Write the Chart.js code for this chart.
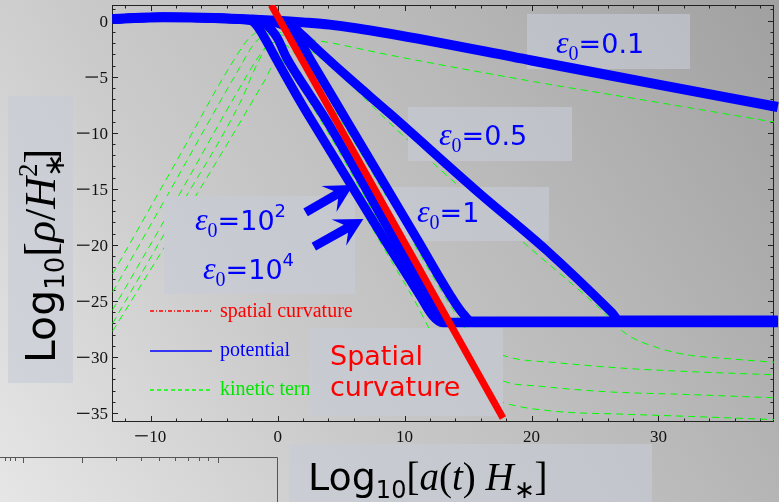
<!DOCTYPE html>
<html lang="en">
<head>
  <meta charset="UTF-8" />
  <title>Energy density vs scale factor</title>
  <script src="https://cdn.jsdelivr.net/npm/chart.js"></script>
  <style>
    html, body { margin: 0; padding: 0; background: #c4c4c4; }
    #wrap { width: 779px; height: 502px; }
  </style>
</head>
<body>
  <div id="wrap"><canvas id="rhoChart" width="779" height="502"></canvas></div>

  <script>
    // Log10[a H*] on x, Log10[rho / H*^2] on y
    const xTicks = [-10, 0, 10, 20, 30];
    const yTicks = [0, -5, -10, -15, -20, -25, -30, -35];

    // potential energy, one curve per initial epsilon
    const potEps01 = [[-13, 0.15], [-9, 0.3], [-5, 0.25], [-2, 0.1], [0, 0], [2, -0.15], [4.1, -0.35], [8.8, -1.15], [20, -3.55], [30, -5.7], [39.4, -7.7]];
    const potEps05 = [[-13, 0.15], [-9, 0.3], [-5, 0.25], [-2, 0.08], [-1, 0], [0, -0.12], [0.7, -0.3], [1.2, -0.55], [2, -1.35], [3.5, -2.95], [5.7, -5.2], [8.8, -8.25], [15.9, -15.4], [21.2, -20.5], [26.3, -26.0], [26.9, -26.7], [39.4, -26.7]];
    const potEps1 = [[-13, 0.15], [-9, 0.3], [-5, 0.25], [-2, 0.08], [-1, 0], [-0.2, -0.15], [0.5, -0.45], [1.1, -0.95], [1.8, -1.95], [2.6, -3.5], [5.41, -8.86], [11.02, -19.55], [13.6, -24.5], [14.5, -26.0], [15.3, -26.8], [39.4, -26.8]];
    const potEps1e2 = [[-13, 0.15], [-9, 0.3], [-5, 0.25], [-2, 0.08], [-1.5, 0], [-1, -0.25], [-0.5, -0.8], [0, -1.6], [0.7, -3.3], [1.5, -4.8], [3.83, -8.86], [9.21, -19.55], [11.7, -24.5], [12.6, -26.2], [13.4, -26.9], [39.4, -26.9]];
    const potEps1e4 = [[-13, 0.15], [-9, 0.3], [-5, 0.25], [-2.5, 0.08], [-2, -0.05], [-1.6, -0.5], [-1.1, -1.4], [-0.6, -2.4], [-0.1, -3.45], [1.47, -6.6], [2.65, -8.86], [8.43, -19.55], [11.2, -24.5], [12.2, -26.3], [13.0, -26.95], [39.4, -26.95]];

    // kinetic term for the same runs
    const kinEps01 = [[-13, -22.6], [-8, -12.6], [-3.5, -3.6], [-2.2, -1.5], [-1.2, -0.9], [0, -1.0], [1.2, -1.4], [4.3, -2.0], [8.8, -3.06], [20, -5.4], [30, -7.3], [39.4, -9.1]];
    const kinEps05 = [[-13, -24.2], [-8, -14.2], [-3.2, -4.6], [-1.8, -2.0], [-0.8, -1.2], [0.4, -1.3], [2.5, -2.6], [5, -4.9], [8.8, -9.1], [15, -15.5], [20, -20.4], [25.5, -25.8], [27.4, -27.9], [30, -29.2], [32.5, -29.85], [35.5, -30.15], [39.4, -30.5]];
    const kinEps1 = [[-13, -25.8], [-8, -16.0], [-3.2, -6.4], [-1.5, -3.2], [-0.8, -2.2], [0, -1.9], [0.8, -2.3], [1.6, -3.3], [4.95, -8.86], [10.55, -19.55], [13.5, -25.2], [15.2, -28.1], [16.8, -29.4], [18.5, -30.1], [21.9, -30.5], [27.2, -31.0], [32.4, -31.3], [39.4, -31.6]];
    const kinEps1e2 = [[-13, -27.0], [-8, -17.2], [-3, -7.4], [-1.5, -3.6], [-0.8, -2.4], [-0.2, -2.6], [0.25, -3.3], [3.38, -8.86], [8.76, -19.55], [11.5, -25.0], [13.5, -28.5], [15.5, -30.6], [17.9, -32.2], [20.6, -32.6], [25.9, -33.1], [32.4, -33.35], [39.4, -33.65]];
    const kinEps1e4 = [[-13, -27.7], [-8, -18.5], [-3.5, -10.1], [-1, -5.3], [-0.3, -4.0], [0.2, -4.1], [1.0, -5.6], [2.2, -8.0], [7.98, -19.55], [10.8, -25.0], [12.5, -28.6], [14.5, -31.6], [16.2, -33.2], [17.9, -34.1], [21.9, -34.85], [27.2, -35.1], [32.4, -35.3], [39.4, -35.6]];

    // spatial curvature, slope -2
    const curvature = [[-0.5, 1.4], [17.75, -35.45]];

    const SERIF = '"Liberation Serif", "Times New Roman", serif';
    const SANS = '"DejaVu Sans", Verdana, sans-serif';
    const BLUE = '#0000ff';
    const RED = '#ff0000';
    const GREEN = '#00ff00';

    const pts = arr => arr.map(([x, y]) => ({ x, y }));

    function kinetic(data) {
      return { kind: 'kinetic', data: pts(data), borderColor: GREEN, borderWidth: 1, borderDash: [7, 5], order: 3 };
    }
    function potential(data, width) {
      return { kind: 'potential', data: pts(data), borderColor: BLUE, borderWidth: width, order: 2,
               clip: { left: 3, top: 0, right: 5, bottom: 0 } };
    }

    let bg = null;

    function background(ctx, w, h) {
      if (!bg) {
        bg = ctx.createLinearGradient(0, h, w, 0);
        bg.addColorStop(0, '#e6e6e6');
        bg.addColorStop(0.35, '#cacaca');
        bg.addColorStop(0.65, '#b9b9b9');
        bg.addColorStop(1, '#a0a0a0');
      }
      return bg;
    }

    // draws a row of text pieces; each piece is [text, font, dy, advance?]
    function runs(ctx, x, y, parts) {
      for (const [t, f, dy = 0, adv = true] of parts) {
        ctx.font = f;
        ctx.fillText(t, x, y + dy);
        if (adv) x += ctx.measureText(t).width;
      }
      return x;
    }

    function box(ctx, x, y, w, h) {
      ctx.fillStyle = bg;
      ctx.fillRect(x, y, w, h);
      ctx.fillStyle = 'rgba(198, 205, 214, 0.62)';
      ctx.fillRect(x, y, w, h);
    }

    function epsLabel(ctx, x, y, value, power) {
      ctx.fillStyle = BLUE;
      const parts = [
        ['\u03b5', `italic 32px ${SERIF}`],
        ['0', `20px ${SERIF}`, 7],
        ['=' + value, `27px ${SANS}`]
      ];
      if (power) parts.push([power, `18px ${SANS}`, -13]);
      runs(ctx, x, y, parts);
    }

    // tick number with a long typeset minus
    function tickText(ctx, v, x, y, align) {
      ctx.font = `17px ${SERIF}`;
      const digits = String(Math.abs(v));
      const dw = ctx.measureText(digits).width;
      const mw = v < 0 ? 14 : 0;
      const left = align === 'right' ? x - dw - mw : x - (dw + mw) / 2;
      if (v < 0) ctx.fillRect(left, y - 6.3, 12.5, 1.2);
      ctx.fillText(digits, left + mw, y);
    }

    function drawTickLabels(chart) {
      const { ctx, chartArea: a, scales: { x, y } } = chart;
      ctx.save();
      ctx.fillStyle = '#111';
      ctx.textAlign = 'left';
      for (const v of xTicks) tickText(ctx, v, x.getPixelForValue(v), a.bottom + 19.5, 'center');
      for (const v of yTicks) tickText(ctx, v, a.left - 4, y.getPixelForValue(v) + 6, 'right');
      ctx.restore();
    }

    function drawLegend(ctx) {
      ctx.save();
      ctx.lineWidth = 1.4;
      const rows = [
        [RED, [4, 2, 1, 2], 311, 'spatial curvature', 317],
        [BLUE, [], 351, 'potential', 356],
        [GREEN, [4, 3], 390, 'kinetic term', 395]
      ];
      ctx.font = `20px ${SERIF}`;
      for (const [col, dash, ly, label, by] of rows) {
        ctx.strokeStyle = col;
        ctx.setLineDash(dash);
        ctx.beginPath();
        ctx.moveTo(150, ly);
        ctx.lineTo(212, ly);
        ctx.stroke();
        ctx.fillStyle = col === GREEN ? '#00e600' : col;
        ctx.fillText(label, 220, by);
      }
      ctx.restore();
    }

    function drawNotes(ctx) {
      ctx.save();
      box(ctx, 527, 14, 163, 55);
      box(ctx, 408, 107, 164, 54);
      box(ctx, 386, 187, 163, 54);
      box(ctx, 164, 196, 191, 98);
      box(ctx, 8, 96, 65, 287);
      box(ctx, 309, 328, 194, 88);
      box(ctx, 289, 444, 363, 58);

      epsLabel(ctx, 556, 53, '0.1');
      epsLabel(ctx, 439, 145, '0.5');
      epsLabel(ctx, 417, 222, '1');
      epsLabel(ctx, 195, 230, '10', '2');
      epsLabel(ctx, 203, 279, '10', '4');

      ctx.fillStyle = RED;
      ctx.font = `27px ${SANS}`;
      ctx.fillText('Spatial', 330, 365);
      ctx.fillText('curvature', 330, 396);

      // axis titles
      ctx.fillStyle = '#000';
      const big = `38px ${SANS}`, sub = `24px ${SANS}`;
      const ser = `39px ${SERIF}`, ita = `italic 39px ${SERIF}`, star = `25px ${SERIF}`;
      runs(ctx, 308, 490, [
        ['Log', big], ['10', sub, 8], ['[', ser], ['a', ita], ['(', ser], ['t', ita], [')', ser],
        [' ', ser], ['H', ita], ['\u2217', star, 8], [']', ser]
      ]);
      ctx.translate(55, 363);
      ctx.rotate(-Math.PI / 2);
      const vSer = `44px ${SERIF}`, vIta = `italic 44px ${SERIF}`;
      runs(ctx, 0, 0, [
        ['Log', `41px ${SANS}`], ['10', `26px ${SANS}`, 9], ['[', vSer], ['\u03c1', vIta], ['/', vSer], ['H', vIta],
        ['\u2217', `28px ${SERIF}`, 9, false], ['2', `27px ${SERIF}`, -18], [']', vSer]
      ]);
      ctx.restore();
    }

    function arrow(chart, from, to) {
      const { ctx, scales: { x, y } } = chart;
      const x0 = x.getPixelForValue(from[0]), y0 = y.getPixelForValue(from[1]);
      const x1 = x.getPixelForValue(to[0]), y1 = y.getPixelForValue(to[1]);
      const L = Math.hypot(x1 - x0, y1 - y0);
      const w = 9, hl = 20, sw = 8, hw = 15;
      ctx.save();
      ctx.translate(x0, y0);
      ctx.rotate(Math.atan2(y1 - y0, x1 - x0));
      ctx.fillStyle = BLUE;
      ctx.beginPath();
      ctx.moveTo(0, -w / 2);
      ctx.lineTo(L - hl, -w / 2);
      ctx.lineTo(L - hl - sw, -hw);
      ctx.lineTo(L, 0);
      ctx.lineTo(L - hl - sw, hw);
      ctx.lineTo(L - hl, w / 2);
      ctx.lineTo(0, w / 2);
      ctx.closePath();
      ctx.fill();
      ctx.restore();
    }

    function drawFrame(chart) {
      const { ctx, chartArea: a, scales: { x, y } } = chart;
      ctx.save();
      ctx.strokeStyle = '#222';
      ctx.lineWidth = 1;
      ctx.strokeRect(a.left + 0.5, a.top + 0.5, a.right - a.left - 1, a.bottom - a.top - 1);
      ctx.beginPath();
      for (let v = -12; v <= 38; v += 2) {
        const px = Math.round(x.getPixelForValue(v)) + 0.5;
        const len = v % 10 === 0 ? 6 : 3.5;
        ctx.moveTo(px, a.bottom); ctx.lineTo(px, a.bottom - len);
        ctx.moveTo(px, a.top); ctx.lineTo(px, a.top + len);
      }
      for (let v = -35; v <= 1; v += 1) {
        const py = Math.round(y.getPixelForValue(v)) + 0.5;
        const len = v % 5 === 0 ? 6 : 3.5;
        ctx.moveTo(a.left, py); ctx.lineTo(a.left + len, py);
        ctx.moveTo(a.right, py); ctx.lineTo(a.right - len, py);
      }
      ctx.stroke();
      ctx.restore();
    }

    // corner of a second frame peeking in at the bottom left
    const lowerMajor = [23, 82, 218];
    const lowerMinor = [5, 10, 15, 116, 141, 159, 175, 188, 199, 208];

    function drawLowerFrame(ctx) {
      ctx.save();
      ctx.strokeStyle = '#555';
      ctx.lineWidth = 1;
      ctx.beginPath();
      ctx.moveTo(0, 457.5); ctx.lineTo(277.5, 457.5); ctx.lineTo(277.5, 502);
      for (const t of lowerMajor) { ctx.moveTo(t + 0.5, 457.5); ctx.lineTo(t + 0.5, 463); }
      for (const t of lowerMinor) { ctx.moveTo(t + 0.5, 457.5); ctx.lineTo(t + 0.5, 461); }
      ctx.stroke();
      ctx.restore();
    }

    let notesDone = false;

    const overlay = {
      id: 'overlay',
      beforeDraw(chart) {
        const { ctx, width, height } = chart;
        ctx.save();
        ctx.fillStyle = background(ctx, width, height);
        ctx.fillRect(0, 0, width, height);
        ctx.restore();
        drawLowerFrame(ctx);
      },
      beforeDatasetsDraw(chart) {
        notesDone = false;
        drawFrame(chart);
        drawTickLabels(chart);
      },
      beforeDatasetDraw(chart, args) {
        const ds = chart.data.datasets[args.index];
        if (!notesDone && ds.kind !== 'kinetic') {
          notesDone = true;
          drawLegend(chart.ctx);
          drawNotes(chart.ctx);
        }
      },
      afterDatasetsDraw(chart) {
        arrow(chart, [2.2, -17.1], [5.95, -14.65]);
        arrow(chart, [2.85, -20.15], [6.75, -17.7]);
      }
    };

    new Chart(document.getElementById('rhoChart'), {
      type: 'line',
      data: {
        datasets: [
          { kind: 'curvature', data: pts(curvature), borderColor: RED, borderWidth: 7, order: 1,
            clip: { left: 0, top: 0, right: 0, bottom: 4 } },
          potential(potEps01, 10),
          potential(potEps05, 9),
          potential(potEps1, 9),
          potential(potEps1e2, 9),
          potential(potEps1e4, 9),
          kinetic(kinEps01),
          kinetic(kinEps05),
          kinetic(kinEps1),
          kinetic(kinEps1e2),
          kinetic(kinEps1e4)
        ]
      },
      options: {
        responsive: false,
        animation: false,
        events: [],
        devicePixelRatio: 1,
        layout: { padding: { left: 0, top: 5, right: 5, bottom: 0 } },
        elements: {
          point: { radius: 0 },
          line: { cubicInterpolationMode: 'monotone', fill: false }
        },
        plugins: { legend: { display: false }, tooltip: { enabled: false } },
        scales: {
          x: {
            type: 'linear', min: -13.05, max: 39.1,
            grid: { display: false, drawTicks: false },
            border: { display: false },
            afterBuildTicks: s => { s.ticks = xTicks.map(v => ({ value: v })); },
            afterFit: s => { s.height = 80; },
            ticks: { display: false }
          },
          y: {
            type: 'linear', min: -35.8, max: 1.4,
            grid: { display: false, drawTicks: false },
            border: { display: false },
            afterBuildTicks: s => { s.ticks = yTicks.map(v => ({ value: v })); },
            afterFit: s => { s.width = 112; },
            ticks: { display: false }
          }
        }
      },
      plugins: [overlay]
    });
  </script>
</body>
</html>
